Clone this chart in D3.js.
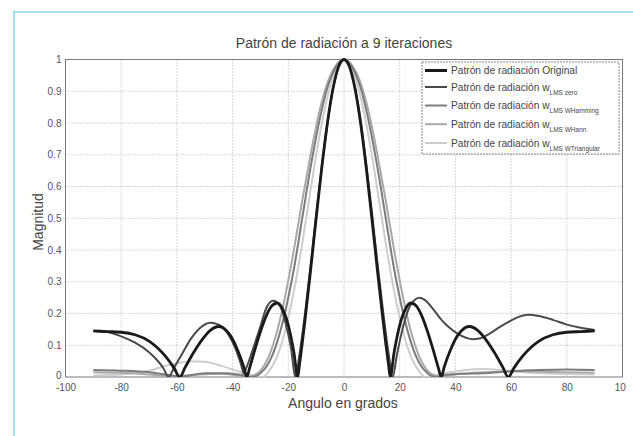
<!DOCTYPE html>
<html><head><meta charset="utf-8">
<script src="https://cdn.jsdelivr.net/npm/d3@7"></script>
<style>body{margin:0;background:#fff;} svg{display:block;font-family:"Liberation Sans",Arial,sans-serif;}</style>
</head><body>
<script>
// ---- Data ----
const xTicks = [-100,-80,-60,-40,-20,0,20,40,60,80,100];
const yTicks = [0,0.1,0.2,0.3,0.4,0.5,0.6,0.7,0.8,0.9,1];

const origAngles = [-90,-85,-80,-75,-70,-67,-64,-61,-59,-57,-54,-51,-48,-45,-42,-40,-38,-36,-34.9,-34,-32,-30,-28,-26,-24,-22,-20,-18,-16.6,-16,-14,-12,-10,-8,-6,-4,-2,0,2,4,6,8,10,12,14,16,16.6,18,20,22,24,26,28,30,32,34,34.9,36,38,40,42,45,48,51,54,57,59,61,64,67,70,75,80,85,90];
const origMag = [0.145,0.143,0.141,0.133,0.113,0.092,0.064,0.028,0,0.031,0.077,0.117,0.147,0.159,0.144,0.119,0.080,0.032,0,0.025,0.086,0.143,0.191,0.223,0.233,0.213,0.163,0.078,0,0.038,0.179,0.336,0.500,0.658,0.797,0.906,0.976,1,0.976,0.906,0.797,0.658,0.500,0.336,0.179,0.038,0,0.078,0.163,0.213,0.233,0.223,0.191,0.143,0.086,0.025,0,0.032,0.080,0.119,0.144,0.159,0.147,0.117,0.077,0.031,0,0.028,0.064,0.092,0.113,0.133,0.141,0.143,0.145];

const zeroAngles = [-90,-85,-80,-75,-70,-67,-65,-63,-61,-58,-55,-52,-48,-45,-42,-39,-37,-36,-35,-33,-30,-28,-25.5,-23,-21,-19,-17.5,-16,-14,-12,-10,-8,-6,-4,-2,0,2,4,6,8,10,12,14,16,17.5,19,21,23,25,27,29,32,35,38,41,44,46,49,52,56,60,63,66,70,75,80,85,90];
const zeroMag = [0.145,0.142,0.128,0.108,0.078,0.052,0.030,0,0.030,0.075,0.120,0.152,0.171,0.165,0.140,0.090,0.040,0.012,0.030,0.080,0.160,0.215,0.240,0.225,0.170,0.090,0,0.070,0.200,0.350,0.510,0.660,0.795,0.905,0.975,1,0.977,0.910,0.805,0.670,0.520,0.360,0.210,0.075,0,0.070,0.150,0.210,0.240,0.250,0.243,0.214,0.180,0.154,0.135,0.123,0.119,0.122,0.135,0.158,0.178,0.190,0.196,0.192,0.180,0.165,0.155,0.148];

const hammAngles = [-90,-80,-70,-62,-58,-50,-42,-36,-33,-30,-27,-24,-21,-18,-15,-12,-9,-6,-3,0,3,6,9,12,15,18,21,24,27,30,33,36,42,50,60,70,80,90];
const hammMag = [0.022,0.020,0.015,0.005,0.002,0.012,0.012,0.005,0,0.012,0.045,0.110,0.210,0.340,0.500,0.660,0.800,0.910,0.975,1,0.975,0.910,0.800,0.660,0.500,0.340,0.210,0.110,0.045,0.012,0,0.006,0.010,0.012,0.018,0.022,0.024,0.022];

const hannAngles = [-90,-80,-70,-62,-55,-45,-38,-35,-33,-30,-27,-24,-21,-18,-15,-12,-9,-6,-3,0,3,6,9,12,15,18,21,24,27,30,33,35,38,45,55,65,75,90];
const hannMag = [0.015,0.013,0.008,0.003,0.006,0.010,0.005,0,0.003,0.020,0.065,0.145,0.260,0.400,0.555,0.700,0.830,0.925,0.980,1,0.980,0.925,0.830,0.700,0.555,0.400,0.260,0.145,0.065,0.020,0.003,0,0.006,0.012,0.016,0.018,0.016,0.013];

const triAngles = [-90,-80,-70,-62,-55,-50,-44,-38,-33,-29,-27,-24,-21,-18,-15,-12,-9,-6,-3,0,3,6,9,12,15,18,21,24,27,29,33,38,44,50,58,66,75,90];
const triMag = [0.005,0.008,0.020,0.040,0.050,0.048,0.035,0.018,0.006,0,0.018,0.065,0.150,0.270,0.420,0.590,0.750,0.880,0.970,1,0.970,0.880,0.750,0.590,0.420,0.270,0.150,0.065,0.018,0,0.006,0.015,0.022,0.025,0.020,0.014,0.010,0.008];

const seriesNames = ["Original","zero","WHamming","WHann","WTriangular"];
const seriesColors = ["#1a1a1a","#4a4a4a","#7c7c7c","#a9a9a9","#cdcdcd"];
const seriesWidths = [2.8,2.0,2.0,2.0,2.0];

const series = [
  {angles: origAngles, mag: origMag},
  {angles: zeroAngles, mag: zeroMag},
  {angles: hammAngles, mag: hammMag},
  {angles: hannAngles, mag: hannMag},
  {angles: triAngles, mag: triMag}
].map((s,i)=>({name: seriesNames[i], color: seriesColors[i], width: seriesWidths[i], pts: s.angles.map((a,j)=>[a, s.mag[j]])}));

// ---- Layout ----
const W = 633, H = 436;
const M = {left: 65.5, right: 622.5, top: 59.5, bottom: 377};
const svg = d3.select("body").append("svg").attr("width", W).attr("height", H);

svg.append("rect").attr("x",14).attr("y",12).attr("width",640).attr("height",450)
  .attr("fill","#fff").attr("stroke","#a6dcf2").attr("stroke-width",2);

const x = d3.scaleLinear().domain([-100,100]).range([M.left, M.right]);
const y = d3.scaleLinear().domain([0,1]).range([M.bottom, M.top]);

// grid
const grid = svg.append("g");
grid.selectAll("line.vx").data(xTicks.slice(1,-1)).join("line")
  .attr("x1",d=>x(d)).attr("x2",d=>x(d)).attr("y1",M.top).attr("y2",M.bottom)
  .attr("stroke","#b0b0b0").attr("stroke-width",1).attr("stroke-dasharray","1,2");
grid.selectAll("line.hy").data(yTicks.slice(1,-1)).join("line")
  .attr("x1",M.left).attr("x2",M.right).attr("y1",d=>y(d)).attr("y2",d=>y(d))
  .attr("stroke","#b0b0b0").attr("stroke-width",1).attr("stroke-dasharray","1,2");

// axes
svg.append("clipPath").attr("id","lbl").append("rect").attr("x",0).attr("y",0).attr("width",626).attr("height",H);
const xAxis = svg.append("g").attr("transform",`translate(0,${M.bottom})`).attr("clip-path","url(#lbl)")
  .call(d3.axisBottom(x).tickValues(xTicks).tickSize(0).tickPadding(7).tickFormat(d=>String(d)));
const yAxis = svg.append("g").attr("transform",`translate(${M.left},0)`)
  .call(d3.axisLeft(y).tickValues(yTicks).tickSize(0).tickPadding(4).tickFormat(d=> d===0?"0":(d===1?"1":d3.format(".1f")(d))));
[xAxis,yAxis].forEach(g=>{
  g.select(".domain").remove();
  g.selectAll("text").attr("fill","#555").attr("font-size","10px").attr("font-family","'Liberation Sans',Arial,sans-serif");
});
yAxis.selectAll(".tick").filter(d=>d===0).select("text").attr("dy","0.1em");

// plot box
svg.append("rect").attr("x",M.left).attr("y",M.top).attr("width",M.right-M.left).attr("height",M.bottom-M.top)
  .attr("fill","none").attr("stroke","#777").attr("stroke-width",1);

// lines
svg.append("clipPath").attr("id","plot").append("rect")
  .attr("x",M.left).attr("y",M.top-3).attr("width",M.right-M.left).attr("height",M.bottom-M.top+3);
const line = d3.line().x(d=>x(d[0])).y(d=>y(d[1])).curve(d3.curveMonotoneX);
const lg = svg.append("g").attr("clip-path","url(#plot)");
series.slice().reverse().forEach(s=>{
  lg.append("path").attr("d", line(s.pts)).attr("fill","none")
    .attr("stroke", s.color).attr("stroke-width", s.width).attr("stroke-linejoin","round");
});

// title & labels
svg.append("text").attr("x",344).attr("y",48).attr("text-anchor","middle")
  .attr("font-size","14px").attr("fill","#444").text("Patrón de radiación a 9 iteraciones");
svg.append("text").attr("x",343).attr("y",408).attr("text-anchor","middle")
  .attr("font-size","14px").attr("fill","#444").text("Angulo en grados");
svg.append("text").attr("transform","translate(43,222) rotate(-90)").attr("text-anchor","middle")
  .attr("font-size","14px").attr("fill","#444").text("Magnitud");

// legend
const lgX = 422, lgY = 62, lgW = 197, lgH = 92;
svg.append("rect").attr("x",lgX).attr("y",lgY).attr("width",lgW).attr("height",lgH)
  .attr("fill","#fff").attr("stroke","#888").attr("stroke-width",1).attr("stroke-dasharray","2,1");
const rowY = [70.5, 87, 105.5, 124.2, 143];
series.forEach((s,i)=>{
  const yy = rowY[i];
  svg.append("line").attr("x1",lgX+3).attr("x2",lgX+25).attr("y1",yy).attr("y2",yy)
    .attr("stroke", s.color).attr("stroke-width", i===0?3:2);
  const t = svg.append("text").attr("x",lgX+29).attr("y",yy+3.5).attr("font-size","10.2px").attr("fill","#444");
  if (i===0) {
    t.text("Patrón de radiación Original");
  } else {
    t.append("tspan").text("Patrón de radiación w");
    t.append("tspan").attr("dy",4).attr("font-size","6.5px").text("LMS " + s.name);
  }
});
</script>
</body></html>
